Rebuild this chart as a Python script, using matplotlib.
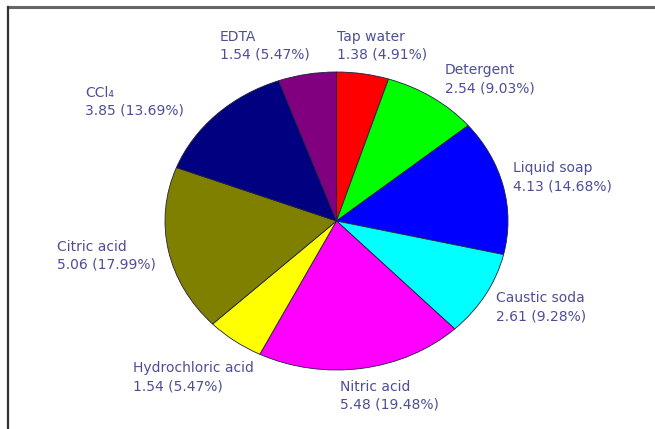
import matplotlib
matplotlib.use("Agg")
import matplotlib.pyplot as plt
from matplotlib.lines import Line2D

# Cleaning agents and their measured values (clockwise from the top)
categories = ["Tap water", "Detergent", "Liquid soap", "Caustic soda", "Nitric acid",
              "Hydrochloric acid", "Citric acid", "CCl\u2084", "EDTA"]
values = [1.38, 2.54, 4.13, 2.61, 5.48, 1.54, 5.06, 3.85, 1.54]
colors = ["#ff0000", "#00ff00", "#0000ff", "#00ffff", "#ff00ff",
          "#ffff00", "#808000", "#000080", "#800080"]

# Label anchor points in pixels (left edge, centre of first line)
label_px = [(337, 37), (445, 70), (513, 168), (496, 298), (340, 387),
            (133, 368), (57, 247), (85, 93), (220, 37)]

W, H = 655, 429
fig = plt.figure(figsize=(W / 100, H / 100), dpi=100)
fig.patch.set_facecolor("white")
ax = fig.add_axes([0, 0, 1, 1])

# Ellipse geometry in pixels
cx, cy, rx, ry = 336.5, 221, 171.5, 149

ax.pie(values, colors=colors, startangle=90, counterclock=False, radius=1,
       wedgeprops=dict(edgecolor="#202040", linewidth=0.6))
ax.set_aspect("auto")
ax.set_xlim(-cx / rx, (W - cx) / rx)
ax.set_ylim((cy - H) / ry, cy / ry)
ax.axis("off")

total = sum(values)
txt_color = "#4e4e98"
for name, v, (px, py) in zip(categories, values, label_px):
    pct = v / total * 100
    fig.text(px / W, 1 - py / H, name, color=txt_color, fontsize=10,
             family="DejaVu Sans", ha="left", va="center")
    fig.text(px / W, 1 - (py + 18) / H, f"{v:.2f} ({pct:.2f}%)", color=txt_color,
             fontsize=10, family="DejaVu Sans", ha="left", va="center")

# Partial frame along the top and left edges
fig.add_artist(Line2D([8 / W, 1], [1 - 7 / H, 1 - 7 / H], transform=fig.transFigure,
                      color="#666666", linewidth=2.2))
fig.add_artist(Line2D([8 / W, 8 / W], [1 - 7 / H, 0], transform=fig.transFigure,
                      color="#333333", linewidth=1.6))

fig.savefig("out.png", dpi=100, facecolor="white")
